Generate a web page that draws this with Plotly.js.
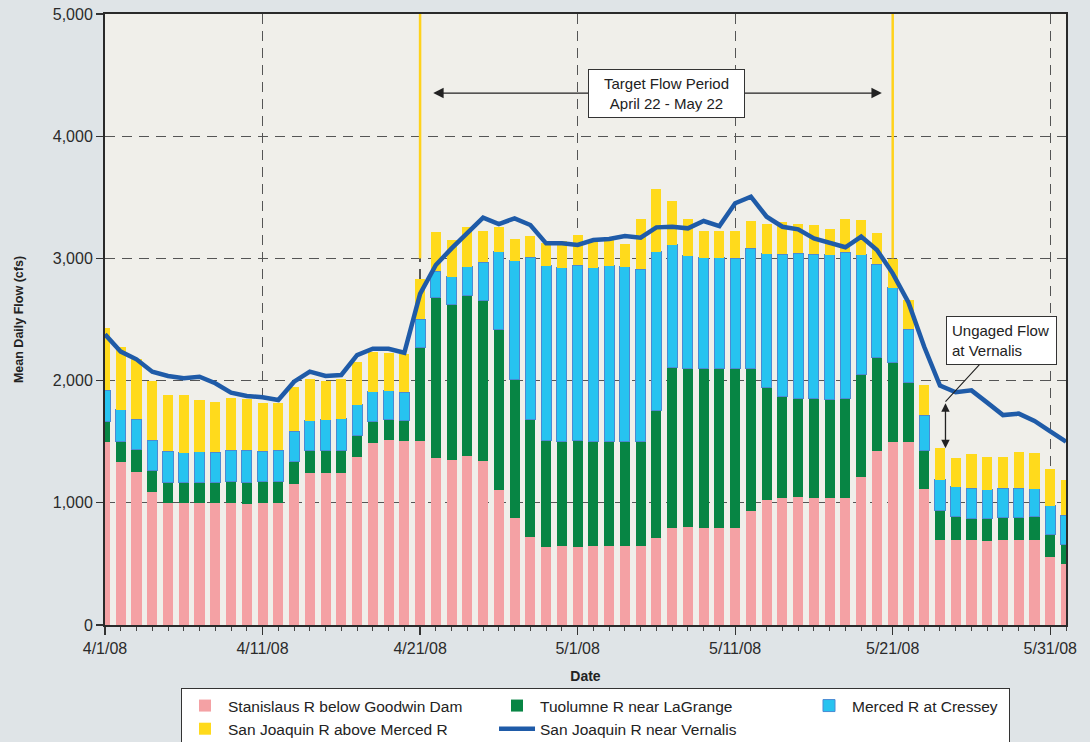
<!DOCTYPE html>
<html>
<head>
<meta charset="utf-8">
<script src="https://cdn.plot.ly/plotly-3.0.1.min.js"></script>
<style>
  html, body { margin: 0; padding: 0; background: #dfe4e7; }
  #chart { width: 1090px; height: 742px; }
</style>
</head>
<body>
<div id="chart"></div>
<script>
// ---- Data ----
var dates = [
  '2008-04-01','2008-04-02','2008-04-03','2008-04-04','2008-04-05','2008-04-06','2008-04-07','2008-04-08','2008-04-09','2008-04-10',
  '2008-04-11','2008-04-12','2008-04-13','2008-04-14','2008-04-15','2008-04-16','2008-04-17','2008-04-18','2008-04-19','2008-04-20',
  '2008-04-21','2008-04-22','2008-04-23','2008-04-24','2008-04-25','2008-04-26','2008-04-27','2008-04-28','2008-04-29','2008-04-30',
  '2008-05-01','2008-05-02','2008-05-03','2008-05-04','2008-05-05','2008-05-06','2008-05-07','2008-05-08','2008-05-09','2008-05-10',
  '2008-05-11','2008-05-12','2008-05-13','2008-05-14','2008-05-15','2008-05-16','2008-05-17','2008-05-18','2008-05-19','2008-05-20',
  '2008-05-21','2008-05-22','2008-05-23','2008-05-24','2008-05-25','2008-05-26','2008-05-27','2008-05-28','2008-05-29','2008-05-30',
  '2008-05-31','2008-06-01'
];

var stanislaus = [
  1495,1331,1254,1086,996,1001,996,996,996,990,
  996,996,1154,1241,1241,1241,1377,1487,1511,1506,
  1508,1367,1347,1383,1342,1105,876,718,641,644,
  641,646,646,644,644,709,794,802,794,794,
  796,933,1020,1042,1045,1042,1042,1042,1214,1424,
  1497,1497,1110,696,696,696,690,696,696,696,
  556,496
];

var tuolumne = [
  170,170,180,175,170,165,170,170,175,175,
  175,175,185,185,185,185,170,175,170,170,
  760,1310,1275,1310,1310,1315,1135,965,867,856,
  867,854,854,856,856,1045,1312,1298,1304,1306,
  1299,1170,922,824,810,810,807,813,832,764,
  655,489,314,239,193,174,183,182,182,188,
  186,161
];

var merced = [
  256,259,251,251,256,242,251,248,259,267,
  251,259,246,246,254,260,257,246,234,229,
  235,218,227,238,316,635,968,1328,1430,1424,
  1438,1424,1438,1430,1413,1301,1004,920,908,906,
  905,979,1096,1167,1189,1181,1179,1195,982,766,
  606,436,294,252,243,249,232,241,241,229,
  234,243
];

var sjAboveMerced = [
  508,513,488,488,464,473,425,409,428,420,
  393,385,363,341,317,324,346,330,311,316,
  327,319,302,324,254,199,180,172,185,216,
  243,226,226,188,409,513,360,300,218,218,
  224,224,243,262,237,240,213,272,286,256,
  237,237,246,264,235,280,270,256,297,292,
  301,287
];

var vernalis = [
  2379,2237,2174,2073,2038,2019,2032,1978,1901,1874,
  1863,1841,1991,2073,2038,2046,2209,2261,2261,2228,
  2710,2946,3082,3205,3333,3281,3328,3273,3123,3123,
  3110,3150,3159,3183,3169,3254,3259,3246,3306,3265,
  3451,3505,3341,3259,3238,3164,3123,3091,3178,3069,
  2878,2640,2277,1960,1905,1920,1820,1718,1730,1670,
  1585,1500
];

var seriesNames = [
  'Stanislaus R below Goodwin Dam',
  'Tuolumne R near LaGrange',
  'Merced R at Cressey',
  'San Joaquin R above Merced R',
  'San Joaquin R near Vernalis'
];

var yTickVals = [0, 1000, 2000, 3000, 4000, 5000];

// Annotation anchors
var targetStart = '2008-04-21 17:45';
var targetEnd = '2008-05-20 07:26';
var targetLabelX = '2008-05-06 15:36';
var targetY = 4353;
var ungagedX = '2008-05-24 08:24';
var ungagedTop = 1827;
var ungagedBottom = 1446;

// ---- Styling ----
var FONT = 'Liberation Sans, Arial, Helvetica, sans-serif';
var TXT = '#2b2b2b';

var traces = [
  { type: 'bar', name: seriesNames[0], x: dates, y: stanislaus,
    marker: { color: '#f4a1a4', line: { width: 0 } } },
  { type: 'bar', name: seriesNames[1], x: dates, y: tuolumne,
    marker: { color: '#078544', line: { width: 0 } } },
  { type: 'bar', name: seriesNames[2], x: dates, y: merced,
    marker: { color: '#27c3f0', line: { color: '#4a8bd3', width: 1 } }, legendwidth: 152 },
  { type: 'bar', name: seriesNames[3], x: dates, y: sjAboveMerced,
    marker: { color: '#ffda1c', line: { width: 0 } } },
  { type: 'scatter', mode: 'lines', name: seriesNames[4], x: dates, y: vernalis,
    line: { color: '#1f5ba8', width: 4.5 } }
];

var layout = {
  width: 1090, height: 742,
  margin: { l: 105, r: 24, t: 14, b: 117 },
  paper_bgcolor: '#dfe4e7',
  plot_bgcolor: '#f0efea',
  font: { family: FONT, color: TXT, size: 15 },
  barmode: 'stack',
  bargap: 0.36,
  showlegend: true,
  legend: {
    orientation: 'h',
    xref: 'paper', yref: 'container',
    x: 0.0791, xanchor: 'left',
    y: 0.0728, yanchor: 'top',
    bgcolor: '#ffffff',
    bordercolor: '#333333', borderwidth: 1,
    font: { family: FONT, size: 15.5, color: '#222' },
    traceorder: 'normal',
    entrywidth: 261, entrywidthmode: 'pixels',
    itemwidth: 36
  },
  xaxis: {
    type: 'date',
    range: ['2008-04-01', '2008-06-01'],
    tick0: '2008-04-01',
    dtick: 864000000,
    tickformat: '%-m/%-d/%y',
    ticks: 'outside', ticklen: 8, tickwidth: 1.2, tickcolor: '#333',
    tickfont: { family: FONT, size: 16, color: TXT },
    showline: true, linecolor: '#2a2a2a', linewidth: 2, mirror: true,
    showgrid: true, gridcolor: '#555555', gridwidth: 1.2, griddash: '10px,7px',
    minor: { dtick: 86400000, ticks: 'outside', ticklen: 4, tickcolor: '#444', tickwidth: 1, showgrid: false },
    title: { text: 'Date', font: { family: FONT, size: 14, color: '#222', weight: 'bold' }, standoff: 15 },
    automargin: false,
    fixedrange: true
  },
  yaxis: {
    range: [0, 5000],
    tickvals: yTickVals,
    tickformat: ',d',
    ticks: 'outside', ticklen: 7, tickwidth: 1.2, tickcolor: '#333',
    tickfont: { family: FONT, size: 16, color: TXT },
    showline: true, linecolor: '#2a2a2a', linewidth: 2, mirror: true,
    showgrid: true, gridcolor: '#555555', gridwidth: 1.2, griddash: '10px,7px',
    zeroline: false,
    title: { text: 'Mean Daily Flow (cfs)', font: { family: FONT, size: 12.5, color: '#222', weight: 'bold' }, standoff: 26 },
    automargin: false,
    fixedrange: true
  },
  shapes: [
    { type: 'line', xref: 'x', yref: 'y', x0: '2008-04-21', x1: '2008-04-21', y0: 3000, y1: 5000,
      line: { color: '#ffd21c', width: 2.5 }, layer: 'above' },
    { type: 'line', xref: 'x', yref: 'y', x0: '2008-05-21', x1: '2008-05-21', y0: 3000, y1: 5000,
      line: { color: '#ffd21c', width: 2.5 }, layer: 'above' }
  ],
  annotations: [
    { xref: 'x', yref: 'y', axref: 'x', ayref: 'y',
      x: targetEnd, y: targetY, ax: targetStart, ay: targetY,
      text: '', showarrow: true, arrowside: 'end+start',
      arrowhead: 2, startarrowhead: 2, arrowsize: 1.6, startarrowsize: 1.6,
      arrowwidth: 1.3, arrowcolor: '#222' },
    { xref: 'x', yref: 'y', x: targetLabelX, y: targetY,
      text: 'Target Flow Period<br>April 22 - May 22', showarrow: false,
      align: 'center', width: 145,
      font: { family: FONT, size: 15, color: '#222' },
      bgcolor: '#ffffff', bordercolor: '#333', borderwidth: 1, borderpad: 5 },
    { xref: 'x', yref: 'y', axref: 'x', ayref: 'y',
      x: ungagedX, y: ungagedBottom, ax: ungagedX, ay: ungagedTop,
      text: '', showarrow: true, arrowside: 'end+start',
      arrowhead: 2, startarrowhead: 2, arrowsize: 1.3, startarrowsize: 1.3,
      arrowwidth: 1.3, arrowcolor: '#222' },
    { xref: 'x', yref: 'y', x: ungagedX, y: ungagedTop, ax: 56, ay: -61,
      text: 'Ungaged Flow<br>at Vernalis', showarrow: true, arrowhead: 0,
      arrowwidth: 1.1, arrowcolor: '#222',
      align: 'left', width: 99,
      font: { family: FONT, size: 15, color: '#222' },
      bgcolor: '#ffffff', bordercolor: '#333', borderwidth: 1, borderpad: 5 }
  ]
};

Plotly.newPlot('chart', traces, layout, { displayModeBar: false, staticPlot: true });
</script>
</body>
</html>
